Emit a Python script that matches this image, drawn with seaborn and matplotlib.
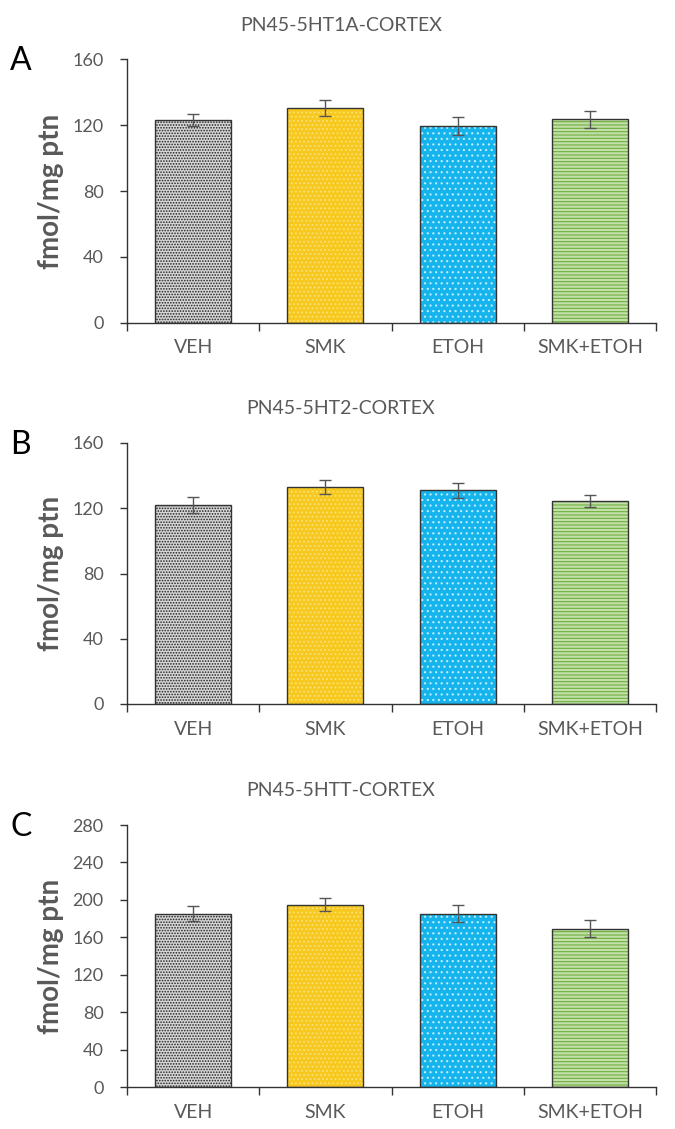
import matplotlib
matplotlib.use("Agg")
import matplotlib.pyplot as plt
import seaborn as sns
import pandas as pd
import numpy as np

categories = ["VEH", "SMK", "ETOH", "SMK+ETOH"]
titles = ["PN45-5HT1A-CORTEX", "PN45-5HT2-CORTEX", "PN45-5HTT-CORTEX"]
panel_letters = ["A", "B", "C"]
values_A = [123, 130.5, 119.5, 123.5]
errors_A = [3.5, 5, 5.5, 5]
values_B = [122, 133, 131, 124.5]
errors_B = [5, 4.5, 4.5, 3.5]
values_C = [185, 195, 185, 169]
errors_C = [8, 7, 9, 9]
yticks_AB = [0, 40, 80, 120, 160]
yticks_C = [0, 40, 80, 120, 160, 200, 240, 280]

fills = ["#d6d6d6", "#f7c81e", "#16b4ec", "#c3dfaa"]
hatch_cols = ["#222222", "#fbe07a", "#bfeeff", "#6fae3d"]
hatches = ["......", "....", "...", "-----"]

sns.set_theme(style="white")
plt.rcParams['font.family'] = ['Lato', 'DejaVu Sans']
plt.rcParams['hatch.linewidth'] = 0.8

fig = plt.figure(figsize=(6.75, 11.29), dpi=100)
W, H = 675, 1129
panels = [
    (values_A, errors_A, yticks_AB, 59.3, 322.7),
    (values_B, errors_B, yticks_AB, 443, 704),
    (values_C, errors_C, yticks_C, 825, 1087),
]
left, right = 127, 656
text_gray = "#595959"
for i, (vals, errs, yt, top, bot) in enumerate(panels):
    ax = fig.add_axes([left / W, 1 - bot / H, (right - left) / W, (bot - top) / H])
    df = pd.DataFrame({"group": categories, "value": vals})
    # hatched fill layer
    sns.barplot(data=df, x="group", y="value", ax=ax, width=0.575,
                errorbar=None, linewidth=0, saturation=1)
    for p, fc, hc, h in zip(ax.patches, fills, hatch_cols, hatches):
        p.set_facecolor(fc)
        p.set_edgecolor(hc)
        p.set_hatch(h)
        p.set_linewidth(0)
    # outline layer
    sns.barplot(data=df, x="group", y="value", ax=ax, width=0.575,
                errorbar=None, fill=False, color="#333333", linewidth=1.0)
    for p in ax.patches[4:]:
        p.set_edgecolor("#333333")
        p.set_facecolor("none")
        p.set_linewidth(1.0)
    ax.errorbar(x=np.arange(len(categories)), y=vals, yerr=errs, fmt="none",
                ecolor="#555555", elinewidth=1.0, capsize=4, capthick=1.0, zorder=5)
    ax.set_xlim(-0.5, len(categories) - 0.5)
    ax.set_ylim(yt[0], yt[-1])
    ax.set_yticks(yt)
    ax.set_yticklabels([str(v) for v in yt], color=text_gray, fontsize=13)
    ax.set_xticks(np.arange(len(categories)))
    ax.set_xticklabels(categories, color=text_gray, fontsize=14)
    ax.set_xticks(np.arange(len(categories) + 1) - 0.5, minor=True)
    ax.tick_params(axis="x", which="major", length=0, pad=12)
    ax.tick_params(axis="x", which="minor", length=6, width=1, color="#333333", direction="out", bottom=True)
    ax.tick_params(axis="y", which="major", length=5, width=1, color="#333333", direction="out", left=True, pad=12)
    ax.set_xlabel("")
    ax.set_ylabel("fmol/mg ptn", color=text_gray, fontsize=20, fontweight="bold")
    ax.yaxis.set_label_coords(-(left - 64) / (right - left), 0.5)
    for s in ["top", "right"]:
        ax.spines[s].set_visible(False)
    for s in ["left", "bottom"]:
        ax.spines[s].set_color("#333333")
        ax.spines[s].set_linewidth(1.0)
    fig.text(0.505, 1 - (top - 34) / H, titles[i], ha="center", va="center",
             color=text_gray, fontsize=14)
    fig.text(10 / W, 1 - (top + 2) / H, panel_letters[i], ha="left", va="center",
             color="black", fontsize=23)

fig.savefig("out.png", dpi=100)
